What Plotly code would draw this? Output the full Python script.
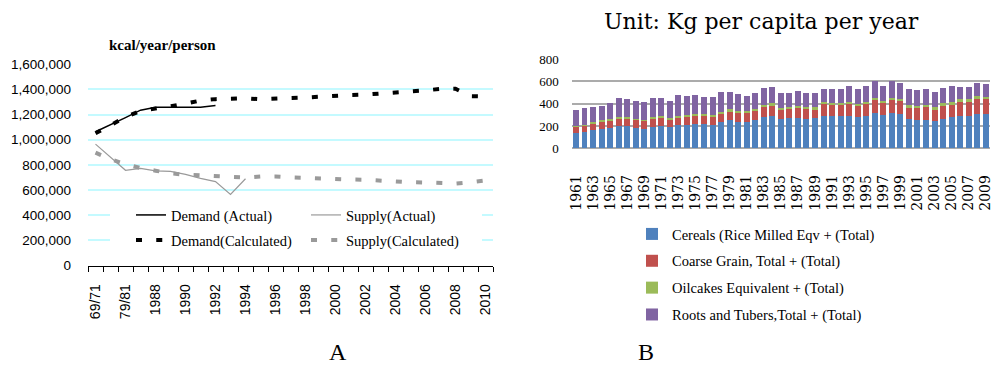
import plotly.graph_objects as go

# ---------------- Panel A data ----------------
periods = ["69/71", "74/76", "79/81", "84/86"] + [str(y) for y in range(1988, 2011)]
period_ticktext = [p if i % 2 == 0 else "" for i, p in enumerate(periods)]

demand_actual = [1064000, 1117000, 1176000, 1235000, 1258000, 1259000, 1259000, 1259000, 1272000]
supply_actual = [965000, 860000, 757000, 773000, 752000, 749000, 725000, 693000, 667000, 565000, 690000]
demand_calc = [1051000, 1116000, 1180000, 1229000, 1252000, 1267000, 1287000, 1312000, 1323000,
               1330000, 1330000, 1322000, 1331000, 1332000, 1336000, 1345000, 1354000, 1356000,
               1359000, 1370000, 1378000, 1385000, 1393000, 1404000, 1405000, 1347000, 1345000]
supply_calc = [897000, 845000, 805000, 775000, 754000, 733000, 722000, 717000, 711000,
               702000, 700000, 708000, 708000, 700000, 694000, 694000, 686000, 684000,
               682000, 674000, 664000, 662000, 660000, 652000, 652000, 662000, 676000]

# ---------------- Panel B data ----------------
years = [str(y) for y in range(1961, 2010)]
cereals = [134, 143, 164, 173, 185, 200, 200, 185, 176, 194, 203, 188, 206, 209, 218, 218, 209,
           233, 254, 233, 239, 254, 278, 293, 263, 272, 272, 263, 272, 293, 287, 287, 293, 278,
           293, 313, 299, 313, 307, 263, 257, 257, 242, 263, 278, 293, 293, 307, 307]
coarse = [60, 57, 60, 66, 63, 63, 63, 69, 69, 69, 75, 72, 69, 75, 75, 75, 75,
          80, 80, 86, 74, 83, 89, 89, 80, 80, 86, 86, 80, 104, 104, 98, 110, 98,
          110, 120, 104, 120, 114, 101, 107, 113, 101, 116, 113, 125, 125, 132, 132]
oilcakes = [9, 9, 15, 15, 15, 18, 18, 12, 12, 18, 12, 12, 18, 17, 17, 17, 15,
            15, 15, 12, 18, 18, 18, 21, 18, 18, 18, 18, 15, 18, 18, 18, 15, 18,
            15, 21, 18, 21, 18, 21, 18, 18, 24, 24, 27, 21, 21, 27, 21]
roots = [140, 155, 131, 125, 140, 167, 158, 155, 158, 173, 158, 149, 185, 168, 168, 153, 164,
         173, 152, 153, 138, 138, 152, 146, 132, 123, 140, 126, 126, 119, 119, 125, 137, 134,
         137, 152, 134, 152, 149, 149, 143, 146, 140, 137, 137, 107, 107, 116, 116]
bar_names = ["Cereals (Rice Milled Eqv + (Total)", "Coarse Grain, Total + (Total)",
             "Oilcakes Equivalent + (Total)", "Roots and Tubers,Total + (Total)"]
bar_colors = ["#4F81BD", "#C0504D", "#9BBB59", "#8064A2"]

W, H = 1000, 377
def px(x):
    return x / W
def py(y):
    return 1 - y / H

DASH = "6px,14.25px"
try:
    go.scatter.Line(dash=DASH)
except ValueError:
    DASH = "6px,14px"

fig = go.Figure()
fig.add_trace(go.Scatter(x=periods[:len(demand_actual)], y=demand_actual, mode="lines",
                         name="Demand (Actual)", line=dict(color="black", width=1.5),
                         legend="legend", legendwidth=130, xaxis="x", yaxis="y"))
fig.add_trace(go.Scatter(x=periods[:len(supply_actual)], y=supply_actual, mode="lines",
                         name="Supply(Actual)", line=dict(color="#9a9a9a", width=1.2),
                         legend="legend", legendwidth=130, xaxis="x", yaxis="y"))
fig.add_trace(go.Scatter(x=periods, y=demand_calc, mode="lines", name="Demand(Calculated)",
                         line=dict(color="black", width=4, dash=DASH),
                         legend="legend3", legendwidth=130, xaxis="x", yaxis="y"))
fig.add_trace(go.Scatter(x=periods, y=supply_calc, mode="lines", name="Supply(Calculated)",
                         line=dict(color="#9a9a9a", width=4, dash=DASH),
                         legend="legend3", legendwidth=130, xaxis="x", yaxis="y"))

n_per = len(periods)
boundaries = [i - 0.5 for i in range(n_per + 1)]
# invisible helper trace so the category-boundary tick axis is drawn
fig.add_trace(go.Scatter(x=[boundaries[0], boundaries[-1]], y=[None, None], mode="lines",
                         showlegend=False, hoverinfo="skip", xaxis="x3", yaxis="y"))

for name, vals, col in zip(bar_names, [cereals, coarse, oilcakes, roots], bar_colors):
    fig.add_trace(go.Bar(x=years, y=vals, name=name, marker=dict(color=col, line=dict(width=0)),
                         legend="legend2", legendgroup=name, xaxis="x2", yaxis="y2"))

sans = "Liberation Sans"
serif = "Liberation Serif"

fig.update_layout(
    template="none",
    width=W, height=H,
    margin=dict(l=0, r=0, t=0, b=0, pad=0),
    paper_bgcolor="white", plot_bgcolor="white",
    showlegend=True,
    barmode="stack", bargap=0.3,
    xaxis=dict(domain=[px(88), px(493)], anchor="y", type="category", automargin=False,
               categoryorder="array", categoryarray=periods, range=[-0.5, n_per - 0.5],
               tickmode="array", tickvals=periods, ticktext=period_ticktext,
               ticks="", showline=True, linecolor="black", linewidth=1, showgrid=False,
               zeroline=False, tickangle=-90,
               tickfont=dict(family=sans, size=14, color="black"), ticklabelstandoff=12),
    xaxis3=dict(overlaying="x", anchor="y", side="bottom", type="linear", automargin=False,
                range=[-0.5, n_per - 0.5], tickmode="array", tickvals=boundaries,
                ticks="outside", ticklen=5, tickcolor="black", tickwidth=1,
                showticklabels=False, showgrid=False, showline=False, zeroline=False),
    yaxis=dict(domain=[py(265.5), py(64.3)], anchor="x", range=[0, 1600000], dtick=200000,
               automargin=False, tickformat=",", showgrid=True, gridcolor="#c4faff",
               gridwidth=1.5, zeroline=False, showline=False, ticks="",
               tickfont=dict(family=sans, size=13.5, color="black"), ticklabelstandoff=16),
    xaxis2=dict(domain=[px(571.7), px(990)], anchor="y2", type="category", automargin=False,
                categoryorder="array", categoryarray=years, range=[-0.5, len(years) - 0.5],
                tickmode="array", tickvals=years[::2], ticks="", showgrid=False, showline=False,
                zeroline=False, tickangle=-90,
                tickfont=dict(family="DejaVu Serif", size=14, color="black"),
                ticklabelstandoff=23),
    yaxis2=dict(domain=[py(148.3), py(59)], anchor="x2", range=[0, 800], dtick=200,
                automargin=False, showgrid=True, gridcolor="#ababab", gridwidth=1.5,
                zeroline=True, zerolinecolor="#ababab", zerolinewidth=1.5, showline=False,
                ticks="", tickfont=dict(family=serif, size=13, color="black"),
                ticklabelstandoff=12),
    legend=dict(x=px(131), y=py(215), xanchor="left", yanchor="middle", orientation="h",
                bgcolor="white", font=dict(family=serif, size=14.5, color="black"),
                itemwidth=30),
    legend3=dict(x=px(131), y=py(240), xanchor="left", yanchor="middle", orientation="h",
                 bgcolor="white", font=dict(family=serif, size=14.5, color="black"),
                 itemwidth=30),
    legend2=dict(x=px(632), y=py(218), xanchor="left", yanchor="top", orientation="v",
                 bgcolor="rgba(0,0,0,0)", font=dict(family=serif, size=14.5, color="black"),
                 traceorder="grouped", tracegroupgap=5),
    shapes=[dict(type="rect", xref="paper", yref="paper", x0=px(110), x1=px(482),
                 y0=py(252), y1=py(203), fillcolor="white", line=dict(width=0), layer="above")],
    annotations=[
        dict(text="<b>kcal/year/person</b>", x=px(162), y=py(45), xref="paper", yref="paper",
             xanchor="center", yanchor="middle", showarrow=False,
             font=dict(family=serif, size=15, color="black")),
        dict(text="Unit: Kg per capita per year", x=px(761), y=py(22), xref="paper", yref="paper",
             xanchor="center", yanchor="middle", showarrow=False,
             font=dict(family="DejaVu Serif", size=22, color="black")),
        dict(text="A", x=px(338), y=py(352), xref="paper", yref="paper",
             xanchor="center", yanchor="middle", showarrow=False,
             font=dict(family=serif, size=24, color="black")),
        dict(text="B", x=px(646), y=py(352), xref="paper", yref="paper",
             xanchor="center", yanchor="middle", showarrow=False,
             font=dict(family=serif, size=24, color="black")),
    ],
)

fig.write_html("out.html", config={"displayModeBar": False},
               post_script="document.body.style.margin='0';")
